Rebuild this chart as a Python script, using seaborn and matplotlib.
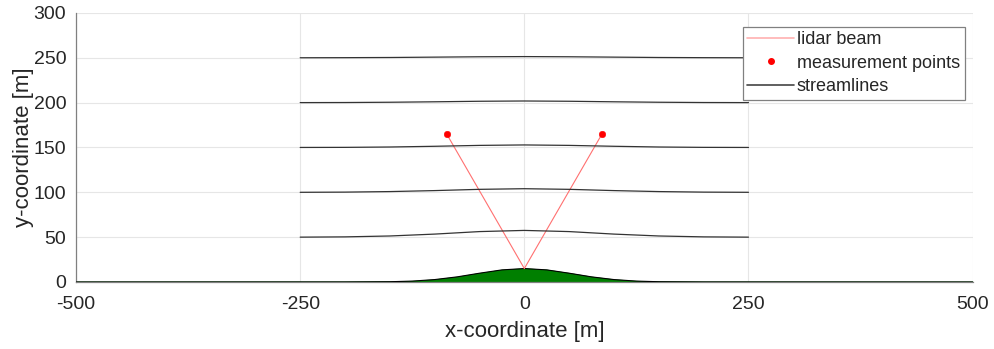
import matplotlib
matplotlib.use("Agg")
import matplotlib.pyplot as plt
from matplotlib.lines import Line2D
import seaborn as sns
import pandas as pd

# ── Data ─────────────────────────────────────────────────────────────────
hill_x = [-500, -200, -150, -125, -100, -75, -50, -25, 0, 25, 50, 75, 100, 125, 150, 200, 500]
hill_y = [0.0, 0.05, 0.3, 1.0, 2.7, 5.7, 9.8, 13.5, 15.0, 13.5, 9.8, 5.7, 2.7, 1.0, 0.3, 0.05, 0.0]

stream_x = [-250, -200, -150, -100, -50, 0, 50, 100, 150, 200, 250]
stream_50 = [50.0, 50.3, 51.3, 53.4, 56.2, 57.5, 56.2, 53.4, 51.3, 50.3, 50.0]
stream_100 = [100.0, 100.2, 100.8, 101.9, 103.3, 104.0, 103.3, 101.9, 100.8, 100.2, 100.0]
stream_150 = [150.0, 150.1, 150.5, 151.3, 152.3, 152.8, 152.3, 151.3, 150.5, 150.1, 150.0]
stream_200 = [200.0, 200.1, 200.4, 200.9, 201.5, 201.8, 201.5, 200.9, 200.4, 200.1, 200.0]
stream_250 = [250.0, 250.1, 250.3, 250.7, 251.1, 251.3, 251.1, 250.7, 250.3, 250.1, 250.0]
streamlines = [stream_50, stream_100, stream_150, stream_200, stream_250]

lidar_origin = (0.0, 15.0)
meas_x = [-86.6, 86.6]
meas_y = [165.0, 165.0]

xticks = [-500, -250, 0, 250, 500]
yticks = [0, 50, 100, 150, 200, 250, 300]

# ── Plot ─────────────────────────────────────────────────────────────────
sns.set_style("white")
plt.rcParams["font.family"] = ["Liberation Sans", "DejaVu Sans"]
plt.rcParams["axes.unicode_minus"] = False

fig = plt.figure(figsize=(9.94, 3.49), dpi=100)
ax = fig.add_axes([0.0765, 0.192, 0.902, 0.771])

ax.grid(True, color="#e6e6e6", linewidth=0.8)
ax.set_axisbelow(True)

# hill
ax.fill_between(hill_x, 0, hill_y, color="#007f00", zorder=2)
ax.plot(hill_x, hill_y, color="black", linewidth=0.8, zorder=3)

# lidar beams
for mx, my in zip(meas_x, meas_y):
    beam = pd.DataFrame({"x": [lidar_origin[0], mx], "y": [lidar_origin[1], my]})
    sns.lineplot(data=beam, x="x", y="y", ax=ax, color="#ff7070",
                 linewidth=0.8, sort=False, zorder=4)

# streamlines
for s in streamlines:
    df = pd.DataFrame({"x": stream_x, "y": s})
    sns.lineplot(data=df, x="x", y="y", ax=ax, color="#333333",
                 linewidth=0.9, zorder=4)

# measurement points
sns.scatterplot(x=meas_x, y=meas_y, ax=ax, color="red", s=22,
                edgecolor="red", zorder=5)

ax.set_xlim(-500, 500)
ax.set_ylim(0, 300)
ax.set_xticks(xticks)
ax.set_yticks(yticks)
ax.tick_params(direction="in", length=5, width=0.8, colors="#808080",
               labelcolor="#262626", labelsize=14)
ax.tick_params(axis="x", pad=10)
ax.tick_params(axis="y", pad=7)
for side in ["top", "right"]:
    ax.spines[side].set_visible(False)
for side in ["left", "bottom"]:
    ax.spines[side].set_color("#808080")
    ax.spines[side].set_linewidth(0.9)

ax.set_xlabel("x-coordinate [m]", fontsize=16, color="#262626", labelpad=6)
ax.set_ylabel("y-coordinate [m]", fontsize=16, color="#262626", labelpad=0)

handles = [
    Line2D([], [], color="#ffb0b0", linewidth=1.2),
    Line2D([], [], color="red", marker="o", linestyle="none", markersize=4),
    Line2D([], [], color="#444444", linewidth=1.2),
]
leg = ax.legend(handles, ["lidar beam", "measurement points", "streamlines"],
                loc="upper right", bbox_to_anchor=(0.991, 0.948), fontsize=13,
                frameon=True, fancybox=False, framealpha=1, edgecolor="#808080",
                handlelength=2.6, handletextpad=0.15, labelspacing=0.35,
                borderpad=0.25, borderaxespad=0)
leg.get_frame().set_linewidth(0.9)

fig.savefig("out.png", dpi=100)
